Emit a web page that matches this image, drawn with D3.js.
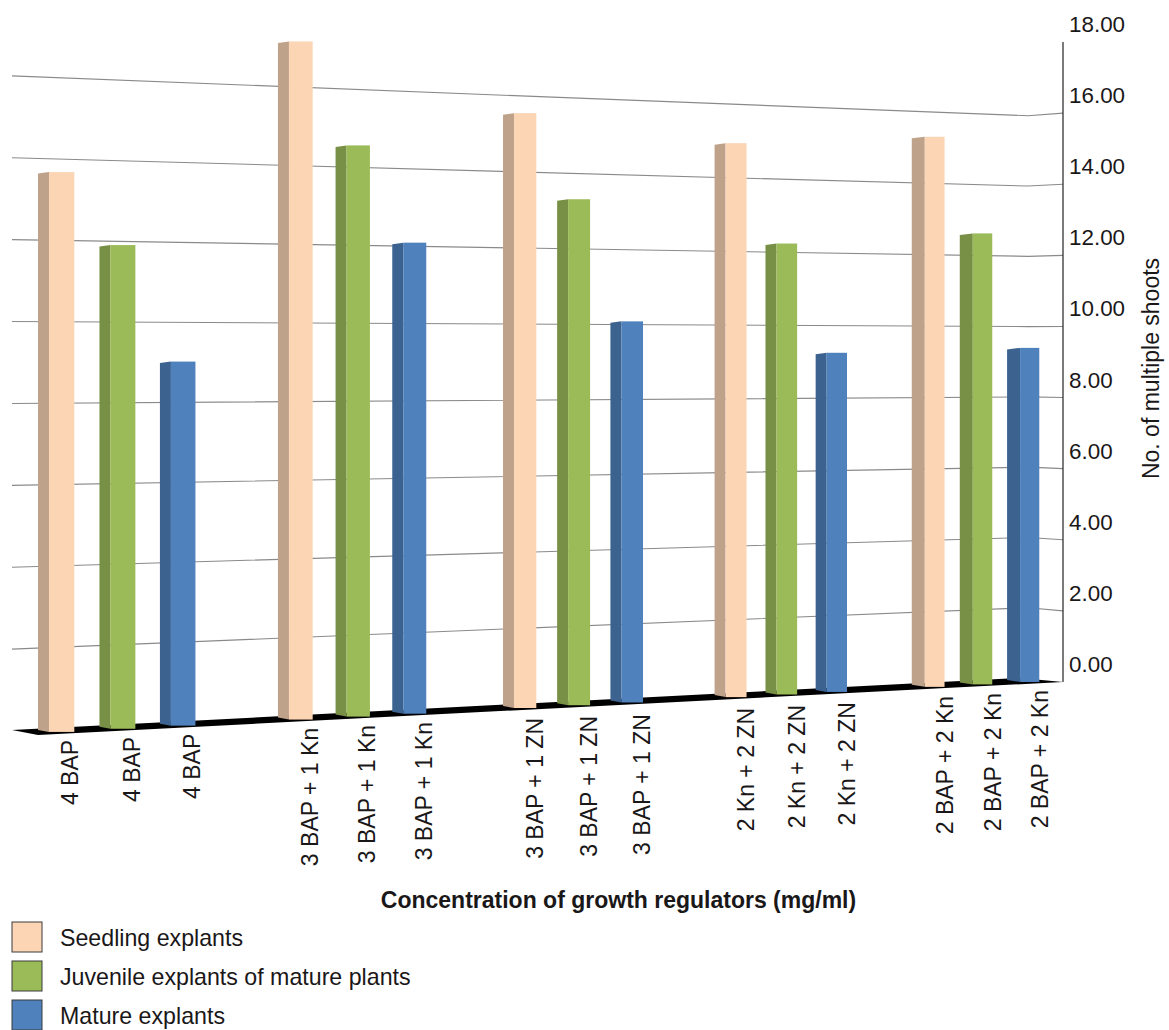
<!DOCTYPE html>
<html>
<head>
<meta charset="utf-8">
<script src="https://cdn.jsdelivr.net/npm/d3@7/dist/d3.min.js"></script>
<style>
html,body{margin:0;padding:0;background:#fff;overflow:hidden}
text{font-family:"Liberation Sans",Arial,sans-serif;fill:#1a1718}
</style>
</head>
<body>
<svg id="chart" width="1169" height="1030"></svg>
<script>
// Mean number of multiple shoots per regulator treatment and explant type
const treatments = ["4 BAP", "3 BAP + 1 Kn", "3 BAP + 1 ZN", "2 Kn + 2 ZN", "2 BAP + 2 Kn"];
const seedling = [13.77, 17.26, 15.65, 15.05, 15.42];
const juvenile = [12.0, 14.66, 13.42, 12.35, 12.74];
const mature = [9.11, 12.19, 10.19, 9.36, 9.51];
const seriesNames = ["Seedling explants", "Juvenile explants of mature plants", "Mature explants"];
const yTicks = [0, 2, 4, 6, 8, 10, 12, 14, 16, 18];
const gridTicks = [2, 4, 6, 8, 10, 12, 14, 16];

const frontColors = ["#fcd5b5", "#9bbb59", "#4f81bd"];
const sideColors = ["#bfa28a", "#789046", "#3c6290"];
const seriesValues = [seedling, juvenile, mature];

const svg = d3.select("#chart");

// The wall recedes: one value scale per vertical edge of the wall
const wallLeftX = 12, wallCornerX = 1028, wallRightX = 1063;
const yLeft = d3.scaleLinear().domain([0, 18]).range([731, -6]);
const yCorner = d3.scaleLinear().domain([0, 18]).range([678, 45.5]);
const yRight = d3.scaleLinear().domain([0, 18]).range([682, 42]);

// Slots run along the floor in perspective; each treatment takes three, then one is left empty
function slotX(s) { return 49 + 61.97 * s / (1 + 0.00826 * s); }
const baseY = d3.scaleLinear().domain([60, 1029]).range([732, 682]);
const unitHeight = d3.scaleLinear().domain([wallLeftX, wallCornerX]).range([40.94, 35.14]);

// Category labels hang below the floor edge, following its slope
const labelX = d3.scaleLinear().domain([74, 1040]).range([78, 1049]);
const labelTop = d3.scaleLinear().domain([76, 433, 651, 856, 1048]).range([740, 722, 714, 702, 690]);

// Grid lines bend at the wall corner
const gridLine = d3.line().x(d => d[0]).y(d => d[1]);
svg.append("g").selectAll("path").data(gridTicks).join("path")
  .attr("d", v => gridLine([[wallLeftX, yLeft(v)], [wallCornerX, yCorner(v)], [wallRightX, yRight(v)]]))
  .attr("fill", "none").attr("stroke", "#8a8a8a").attr("stroke-width", 1.1);

// Floor strip
svg.append("path")
  .attr("d", gridLine([[wallLeftX, yLeft(0) - 1], [1020, 678], [wallRightX, yRight(0)], [38, 735]]) + "Z")
  .attr("fill", "#000");

// Value axis on the right
svg.append("line")
  .attr("x1", wallRightX).attr("x2", wallRightX)
  .attr("y1", yRight(18)).attr("y2", yRight(0))
  .attr("stroke", "#222").attr("stroke-width", 1.2);
svg.append("g").selectAll("text").data(yTicks).join("text")
  .attr("x", 1069).attr("y", v => yRight(v) - 10)
  .attr("font-size", 22.4).text(v => d3.format(".2f")(v));
svg.append("text")
  .attr("transform", "translate(1159,368.5) rotate(-90)")
  .attr("text-anchor", "middle").attr("font-size", 23).text("No. of multiple shoots");

// Bars: a dark side face and a light front face
const bars = [];
treatments.forEach((name, g) => {
  seriesValues.forEach((vals, k) => {
    bars.push({ name, g, k, value: vals[g], slot: g * 4 + k });
  });
});
const gBars = svg.append("g");
bars.forEach(b => {
  const x0 = slotX(b.slot), x1 = slotX(b.slot + 0.41);
  const side = b.g === 4 ? 13 : 11;
  const cx = (x0 + x1) / 2;
  const bottom = baseY(cx);
  const top = bottom - b.value * unitHeight(cx);
  gBars.append("path")
    .attr("d", gridLine([[x0 - side, top + 1.5], [x0, top], [x0, bottom], [x0 - side, bottom - 2]]) + "Z")
    .attr("fill", sideColors[b.k]);
  gBars.append("rect")
    .attr("x", x0).attr("y", top).attr("width", x1 - x0).attr("height", bottom - top)
    .attr("fill", frontColors[b.k]);
  const lx = labelX(x1);
  svg.append("text")
    .attr("transform", `translate(${lx},${labelTop(lx)}) rotate(-90)`)
    .attr("text-anchor", "end").attr("font-size", 23).text(b.name);
});

// Category axis title
svg.append("text")
  .attr("x", 618.5).attr("y", 908).attr("text-anchor", "middle")
  .attr("font-size", 23).attr("font-weight", "bold")
  .text("Concentration of growth regulators (mg/ml)");

// Legend
const legend = svg.append("g").selectAll("g").data(seriesNames).join("g")
  .attr("transform", (d, i) => `translate(12,${d3.scaleLinear().domain([0, 2]).range([922, 1000])(i)})`);
legend.append("rect").attr("width", 30).attr("height", 30)
  .attr("fill", (d, i) => frontColors[i]).attr("stroke", "#3a3a3a").attr("stroke-width", 1);
legend.append("text").attr("x", 48).attr("y", 24).attr("font-size", 23.2).text(d => d);
</script>
</body>
</html>
